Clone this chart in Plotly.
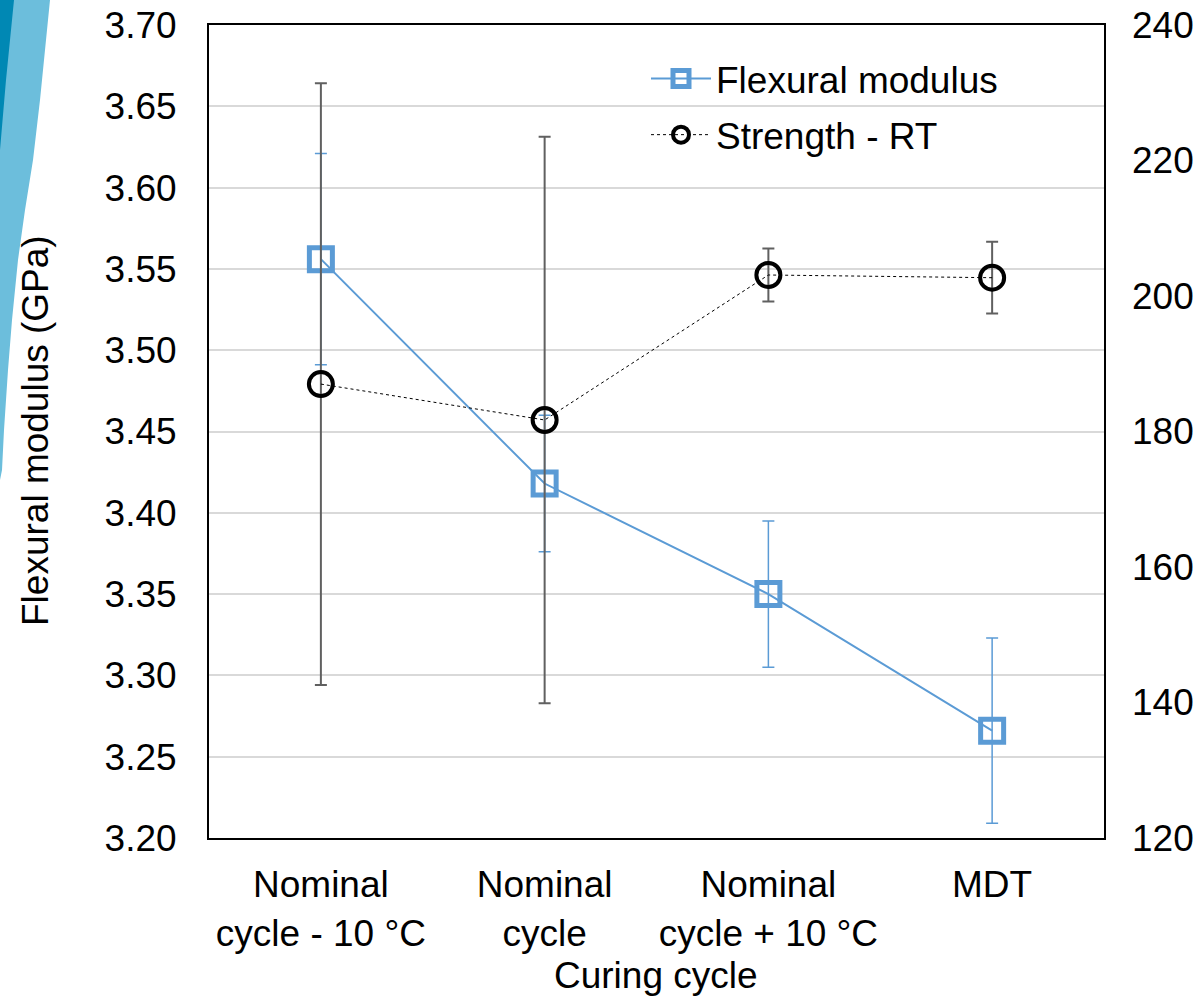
import plotly.graph_objects as go

# ---------------- data ----------------
categories = ["Nominal<br>cycle - 10 °C", "Nominal<br>cycle", "Nominal<br>cycle + 10 °C", "MDT"]
modulus = [3.556, 3.418, 3.350, 3.266]          # GPa (left axis)
modulus_err = [0.065, 0.042, 0.045, 0.057]
strength = [187.0, 181.7, 203.1, 202.7]          # MPa (right axis)
strength_err = [44.4, 41.8, 3.9, 5.3]
left_ticks = [3.20, 3.25, 3.30, 3.35, 3.40, 3.45, 3.50, 3.55, 3.60, 3.65, 3.70]
right_ticks = [120, 140, 160, 180, 200, 220, 240]

FONT = "Liberation Sans, Arial, sans-serif"
FS = 37
W, H = 1200, 996
L, R, T, B = 209, 1104, 25, 838

def px(x):
    return (x - L) / (R - L)

def py(y):
    return (B - y) / (B - T)

fig = go.Figure()

fig.add_trace(go.Scatter(
    x=categories, y=modulus, name="Flexural modulus", mode="lines+markers",
    legendgroup="a",
    line=dict(color="#5B9BD5", width=2),
    marker=dict(symbol="square-open", size=23, color="#5B9BD5", line=dict(width=5, color="#5B9BD5")),
    error_y=dict(type="data", array=modulus_err, visible=True, color="#5B9BD5", thickness=1.5, width=6),
))

fig.add_trace(go.Scatter(
    x=categories, y=strength, name="Strength - RT", mode="lines+markers",
    legendgroup="b", yaxis="y2",
    line=dict(color="#000000", width=1, dash="dot"),
    marker=dict(symbol="circle-open", size=24, color="#000000", line=dict(width=4, color="#000000")),
    error_y=dict(type="data", array=strength_err, visible=True, color="#606060", thickness=2, width=6),
))

# decorative swoosh at top-left
def path(points):
    s = "M {} {}".format(px(points[0][0]), py(points[0][1]))
    for p in points[1:]:
        s += " L {} {}".format(px(p[0]), py(p[1]))
    return s + " Z"

light = [(50, 0), (45, 50), (40, 100), (33, 160), (25, 210), (18, 260), (12, 320),
         (8, 370), (4, 430), (2, 470), (0, 480), (0, 0)]
dark = [(14, 0), (10, 40), (6, 80), (3, 115), (0, 150), (0, 0)]

shapes = [
    dict(type="path", xref="paper", yref="paper", path=path(light),
         fillcolor="#6CBEDC", line=dict(width=0), layer="below"),
    dict(type="path", xref="paper", yref="paper", path=path(dark),
         fillcolor="#0088B4", line=dict(width=0), layer="below"),
]

annotations = [
    dict(text="Flexural modulus (GPa)", xref="paper", yref="paper",
         x=px(35), y=py(431), textangle=-90, showarrow=False,
         xanchor="center", yanchor="middle", font=dict(size=FS)),
    dict(text="Curing cycle", xref="paper", yref="paper",
         x=px(656), y=py(976), showarrow=False,
         xanchor="center", yanchor="middle", font=dict(size=FS)),
]

fig.update_layout(
    width=W, height=H,
    margin=dict(l=L, r=W - R, t=T, b=H - B, autoexpand=False),
    paper_bgcolor="white", plot_bgcolor="white",
    font=dict(family=FONT, size=FS, color="#000000"),
    showlegend=True,
    legend=dict(x=px(646), y=py(48), xanchor="left", yanchor="top",
                bgcolor="rgba(0,0,0,0)", font=dict(size=FS),
                tracegroupgap=5, traceorder="grouped", itemwidth=60),
    shapes=shapes,
    annotations=annotations,
    xaxis=dict(
        type="category", range=[-0.5, 3.5], automargin=False,
        showgrid=False, showline=True, linecolor="#000000", linewidth=2, mirror=True,
        ticks="", ticklabelstandoff=13, tickfont=dict(size=FS),
    ),
    yaxis=dict(
        range=[3.20, 3.70], tickvals=left_ticks, tickformat=".2f", automargin=False,
        showgrid=True, gridcolor="#D9D9D9", gridwidth=1.5,
        showline=True, linecolor="#000000", linewidth=2, mirror=True,
        ticks="", ticklabelstandoff=23, zeroline=False,
    ),
    yaxis2=dict(
        range=[120, 240], tickvals=right_ticks, overlaying="y", side="right", automargin=False,
        showgrid=False, showline=False, zeroline=False,
        ticks="", ticklabelstandoff=27,
    ),
)

fig.write_html("out.html", config={"displayModeBar": False},
               post_script="document.body.style.margin='0px';")
